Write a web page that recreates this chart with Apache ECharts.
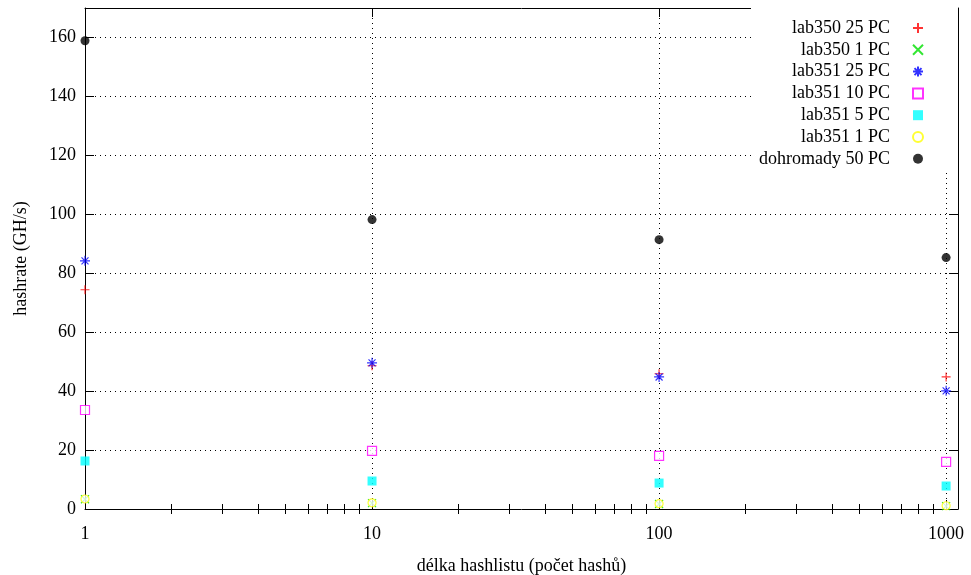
<!DOCTYPE html>
<html>
<head>
<meta charset="utf-8">
<script src="https://cdn.jsdelivr.net/npm/echarts@6/dist/echarts.min.js"></script>
<style>html,body{margin:0;padding:0;background:#fff}#c{width:971px;height:575px}</style>
</head>
<body>
<div id="c"></div>
<script>
const xValues = [1, 10, 100, 1000];
const lab350_25 = [74.4, 48.6, 45.9, 44.8];
const lab350_1 = [3.3, 2.0, 1.7, 1.0];
const lab351_25 = [84.2, 49.6, 44.8, 40.1];
const lab351_10 = [33.6, 19.7, 18.0, 16.0];
const lab351_5 = [16.3, 9.5, 8.8, 7.8];
const lab351_1 = [3.4, 2.1, 1.8, 1.1];
const all_50 = [158.9, 98.2, 91.4, 85.3];
const xMajor = [1, 10, 100, 1000];
const xMinor = [2,3,4,5,6,7,8,9,20,30,40,50,60,70,80,90,200,300,400,500,600,700,800,900];

const FONT = 'Liberation Serif';
const pair = arr => xValues.map((x, i) => [x, arr[i]]);
const SQUARE = 'path://M0,0L10,0L10,10L0,10Z';

const seriesDefs = [
  {name: 'lab350 25 PC', data: lab350_25, symbol: 'path://M0,5L10,5M5,0L5,10', size: 9, stroke: '#ff0000'},
  {name: 'lab350 1 PC', data: lab350_1, symbol: 'path://M0,0L10,10M10,0L0,10', size: 8, stroke: '#00e000'},
  {name: 'lab351 25 PC', data: lab351_25, symbol: 'path://M0,5L10,5M5,0L5,10M1.5,1.5L8.5,8.5M8.5,1.5L1.5,8.5', size: 10, stroke: '#0000ff'},
  {name: 'lab351 10 PC', data: lab351_10, symbol: SQUARE, size: 9, stroke: '#ff00ff', open: true},
  {name: 'lab351 5 PC', data: lab351_5, symbol: SQUARE, size: 9, fill: '#00ffff'},
  {name: 'lab351 1 PC', data: lab351_1, symbol: 'circle', size: 8, stroke: '#ffff00', open: true},
  {name: 'dohromady 50 PC', data: all_50, symbol: 'circle', size: 9, fill: '#000000'}
];

const series = seriesDefs.map(d => {
  let itemStyle;
  if (d.fill) itemStyle = {color: d.fill, borderWidth: 0};
  else if (d.open) itemStyle = {color: '#ffffff', borderColor: d.stroke, borderWidth: 1.2};
  else itemStyle = {color: 'rgba(0,0,0,0)', borderColor: d.stroke, borderWidth: 1.2};
  return {
    name: d.name, type: 'scatter', data: pair(d.data), symbol: d.symbol,
    symbolSize: d.size, symbolKeepAspect: true, itemStyle: itemStyle, clip: false,
    emphasis: {disabled: true}
  };
});

const dotted = {color: '#000', width: 1, type: [1, 4]};
const axisFont = {fontFamily: FONT, fontSize: 18, color: '#000'};

const chart = echarts.init(document.getElementById('c'), null, {renderer: 'canvas'});
chart.setOption({
  animation: false,
  backgroundColor: '#fff',
  grid: {left: 85, right: 13, top: 8, bottom: 66, containLabel: false, outerBoundsMode: 'none'},
  legend: {
    orient: 'vertical', right: 13, top: 8, align: 'right',
    backgroundColor: '#ffffff', padding: [11, 34, 2, 8],
    itemWidth: 46, itemHeight: 10, itemGap: 3.8,
    textStyle: {fontFamily: FONT, fontSize: 18, color: '#000'},
    data: seriesDefs.map(d => d.name), selectedMode: false
  },
  xAxis: [
    {type: 'log', logBase: 10, min: 1, max: 1100, position: 'bottom',
     name: 'délka hashlistu (počet hashů)', nameLocation: 'middle', nameGap: 48,
     nameTextStyle: axisFont,
     axisLine: {show: true, onZero: false, lineStyle: {color: '#000', width: 1}},
     axisTick: {show: true, inside: true, length: 9, customValues: xMajor, lineStyle: {color: '#000'}},
     axisLabel: {customValues: xMajor, margin: 16, ...axisFont, formatter: v => String(v)},
     splitLine: {show: true, lineStyle: dotted}},
    {type: 'log', logBase: 10, min: 1, max: 1100, position: 'bottom',
     axisLine: {show: false}, axisLabel: {show: false}, splitLine: {show: false},
     axisTick: {show: true, inside: true, length: 5, customValues: xMinor, lineStyle: {color: '#000'}}},
    {type: 'log', logBase: 10, min: 1, max: 1100, position: 'top',
     axisLine: {show: true, onZero: false, lineStyle: {color: '#000', width: 1}}, axisLabel: {show: false}, splitLine: {show: false},
     axisTick: {show: true, inside: true, length: 9, customValues: xMajor, lineStyle: {color: '#000'}}},
    {type: 'log', logBase: 10, min: 1, max: 1100, position: 'top',
     axisLine: {show: false}, axisLabel: {show: false}, splitLine: {show: false},
     axisTick: {show: true, inside: true, length: 5, customValues: xMinor, lineStyle: {color: '#000'}}}
  ],
  yAxis: [
    {type: 'value', min: 0, max: 170, interval: 20, position: 'left',
     name: 'hashrate (GH/s)', nameLocation: 'middle', nameGap: 55, nameTextStyle: axisFont,
     axisLine: {show: true, onZero: false, lineStyle: {color: '#000', width: 1}},
     axisTick: {show: true, inside: true, length: 9, lineStyle: {color: '#000'}},
     axisLabel: {margin: 9, ...axisFont, showMaxLabel: false, formatter: v => (v > 160 ? '' : String(v))},
     splitLine: {show: true, lineStyle: dotted}},
    {type: 'value', min: 0, max: 170, interval: 20, position: 'right',
     axisLine: {show: true, onZero: false, lineStyle: {color: '#000', width: 1}},
     axisTick: {show: true, inside: true, length: 9, lineStyle: {color: '#000'}},
     axisLabel: {show: false}, splitLine: {show: false}}
  ],
  series: series
});
</script>
</body>
</html>
